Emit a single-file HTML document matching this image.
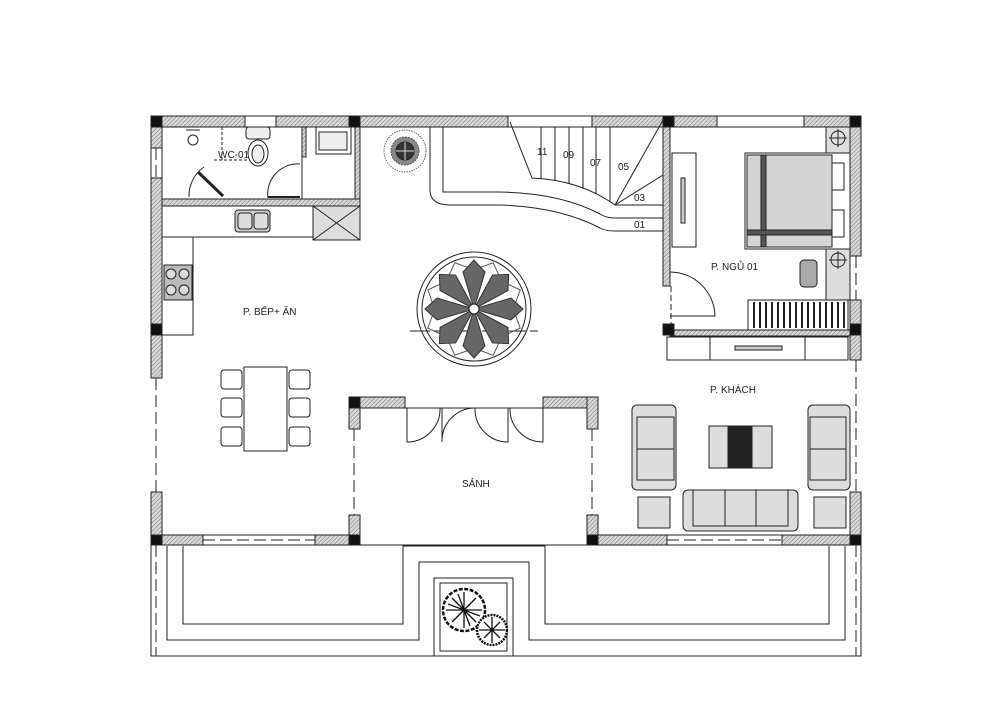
<!DOCTYPE html>
<html><head><meta charset="utf-8"><style>
html,body{margin:0;padding:0;background:#fff;}
svg{display:block;}
text{font-family:"Liberation Sans",sans-serif;font-size:10px;fill:#222;stroke:none;}
</style></head><body>
<svg width="999" height="710" viewBox="0 0 999 710" xmlns="http://www.w3.org/2000/svg">
<defs>
<pattern id="h" width="3" height="3" patternUnits="userSpaceOnUse" patternTransform="rotate(45)">
<rect width="3" height="3" fill="#d8d8d8"/><line x1="0" y1="0" x2="0" y2="3" stroke="#777" stroke-width="1"/>
</pattern>
</defs>
<g stroke="#222" stroke-width="1">
<g fill="url(#h)">
<rect x="151" y="116" width="94" height="11"/>
<rect x="276" y="116" width="232" height="11"/>
<rect x="592" y="116" width="125" height="11"/>
<rect x="804" y="116" width="57" height="11"/>
<rect x="151" y="116" width="11" height="32"/>
<rect x="151" y="178" width="11" height="200"/>
<rect x="151" y="492" width="11" height="53"/>
<rect x="850" y="116" width="11" height="140"/>
<rect x="850" y="300" width="11" height="60"/>
<rect x="850" y="492" width="11" height="53"/>
<rect x="162" y="535" width="41" height="10"/>
<rect x="315" y="535" width="45" height="10"/>
<rect x="598" y="535" width="69" height="10"/>
<rect x="782" y="535" width="79" height="10"/>
<rect x="349" y="397" width="56" height="11"/>
<rect x="543" y="397" width="55" height="11"/>
<rect x="349" y="397" width="11" height="32"/>
<rect x="349" y="515" width="11" height="30"/>
<rect x="587" y="397" width="11" height="32"/>
<rect x="587" y="515" width="11" height="30"/>
<rect x="162" y="199" width="198" height="7"/>
<rect x="355" y="127" width="5" height="72"/>
<rect x="302" y="127" width="4" height="30"/>
<rect x="663" y="116" width="7" height="170"/>
<rect x="670" y="330" width="180" height="6"/>
</g>
<g fill="none" stroke-dasharray="12 5">
<line x1="245" y1="121" x2="276" y2="121"/><line x1="508" y1="121" x2="592" y2="121"/><line x1="717" y1="121" x2="804" y2="121"/>
<line x1="156" y1="148" x2="156" y2="178"/><line x1="156" y1="378" x2="156" y2="492"/>
<line x1="856" y1="256" x2="856" y2="300"/><line x1="856" y1="360" x2="856" y2="492"/>
<line x1="203" y1="540" x2="315" y2="540"/><line x1="667" y1="540" x2="782" y2="540"/>
<line x1="354" y1="429" x2="354" y2="515"/><line x1="592" y1="429" x2="592" y2="515"/>
<line x1="156" y1="545" x2="156" y2="656"/><line x1="856" y1="545" x2="856" y2="656"/>
</g>
<g fill="#fff">
<rect x="245" y="116" width="31" height="11"/><rect x="508" y="116" width="84" height="11"/><rect x="717" y="116" width="87" height="11"/>
<rect x="151" y="148" width="11" height="30" fill="none"/>
<rect x="203" y="535" width="112" height="10" fill="none"/><rect x="667" y="535" width="115" height="10" fill="none"/>
</g>
<g fill="#111">
<rect x="151" y="116" width="11" height="11"/><rect x="349" y="116" width="11" height="11"/><rect x="663" y="116" width="11" height="11"/><rect x="850" y="116" width="11" height="11"/>
<rect x="151" y="324" width="11" height="11"/><rect x="850" y="324" width="11" height="11"/><rect x="663" y="324" width="11" height="11"/>
<rect x="151" y="535" width="11" height="10"/><rect x="349" y="535" width="11" height="10"/><rect x="587" y="535" width="11" height="10"/><rect x="850" y="535" width="11" height="10"/>
<rect x="349" y="397" width="11" height="11"/>
</g>
<g fill="none">
<rect x="151" y="545" width="710" height="111"/>
<path d="M167 546 V640 H419 V562 H529 V640 H845 V546"/>
<path d="M183 546 V624 H403 V546 H545 V624 H829 V546"/>
<rect x="434" y="578" width="79" height="78" fill="#fff"/>
<rect x="440" y="583" width="67" height="68"/>
</g>
<circle cx="464" cy="610" r="21" fill="#fff" stroke="#111" stroke-width="2.5" stroke-dasharray="4 1.5"/>
<circle cx="492" cy="630" r="15" fill="#fff" stroke="#111" stroke-width="2.5" stroke-dasharray="2 1"/>
<path d="M464 592 L464 628 M446 610 L482 610 M452 598 L476 622 M476 598 L452 622 M458 594 L470 626 M448 604 L480 616 M484 622 L500 638 M500 622 L484 638 M492 617 V643 M479 630 H505" stroke="#111" stroke-width="1.3"/>
<path d="M162 237 H313 M193 237 V335 H162" fill="none"/>
<rect x="313" y="206" width="47" height="34" fill="#ddd"/>
<path d="M313 206 L360 240 M360 206 L313 240"/>
<rect x="235" y="210" width="35" height="22" rx="3" fill="#ccc"/>
<rect x="238" y="213" width="14" height="16" rx="3" fill="#ddd"/><rect x="254" y="213" width="14" height="16" rx="3" fill="#ddd"/>
<rect x="164" y="265" width="28" height="35" fill="#bbb"/>
<circle cx="171" cy="274" r="5" fill="#ddd"/><circle cx="184" cy="274" r="5" fill="#ddd"/><circle cx="171" cy="290" r="5" fill="#ddd"/><circle cx="184" cy="290" r="5" fill="#ddd"/>
<rect x="316" y="127" width="35" height="27" fill="#fff"/><rect x="319" y="132" width="28" height="18" fill="#eee"/>
<rect x="246" y="127" width="24" height="12" rx="3" fill="#eee"/>
<ellipse cx="258" cy="153" rx="10" ry="13" fill="#fff"/><ellipse cx="258" cy="154" rx="6" ry="9" fill="#eee"/>
<circle cx="193" cy="140" r="5" fill="none"/><path d="M186 130 H200" />
<path d="M189 197 A35 35 0 0 1 204 167" fill="none"/>
<path d="M198 172 L223 196" stroke-width="3"/>
<path d="M268 198 A30 30 0 0 1 300 164" fill="none"/>
<line x1="268" y1="197" x2="300" y2="197" stroke-width="2"/>
<path d="M222 127 V160 M214 160 H250" fill="none" stroke-dasharray="3 2"/>
<line x1="302" y1="157" x2="302" y2="199"/>
<circle cx="405" cy="151" r="21" fill="#fff" stroke="#666" stroke-dasharray="1.5 1"/>
<circle cx="405" cy="151" r="14" fill="#888" stroke="#555" stroke-dasharray="2 1"/>
<circle cx="405" cy="151" r="9" fill="#333"/>
<path d="M396 151 H414 M405 142 V160" stroke="#ddd"/>
<circle cx="474" cy="309" r="57" fill="#fff"/><circle cx="474" cy="309" r="52" fill="none"/>
<line x1="410" y1="331" x2="538" y2="331" stroke-dasharray="20 4"/>
<g fill="none" stroke="#555">
<path d="M474 309 L462 270 L474 259 L486 270 Z" transform="rotate(22.5 474 309)"/><path d="M474 309 L462 270 L474 259 L486 270 Z" transform="rotate(67.5 474 309)"/>
<path d="M474 309 L462 270 L474 259 L486 270 Z" transform="rotate(112.5 474 309)"/><path d="M474 309 L462 270 L474 259 L486 270 Z" transform="rotate(157.5 474 309)"/>
<path d="M474 309 L462 270 L474 259 L486 270 Z" transform="rotate(202.5 474 309)"/><path d="M474 309 L462 270 L474 259 L486 270 Z" transform="rotate(247.5 474 309)"/>
<path d="M474 309 L462 270 L474 259 L486 270 Z" transform="rotate(292.5 474 309)"/><path d="M474 309 L462 270 L474 259 L486 270 Z" transform="rotate(337.5 474 309)"/>
</g>
<g fill="#666" stroke="#333">
<path d="M474 309 L463 272 L474 260 L485 272 Z"/><path d="M474 309 L463 272 L474 260 L485 272 Z" transform="rotate(45 474 309)"/>
<path d="M474 309 L463 272 L474 260 L485 272 Z" transform="rotate(90 474 309)"/><path d="M474 309 L463 272 L474 260 L485 272 Z" transform="rotate(135 474 309)"/>
<path d="M474 309 L463 272 L474 260 L485 272 Z" transform="rotate(180 474 309)"/><path d="M474 309 L463 272 L474 260 L485 272 Z" transform="rotate(225 474 309)"/>
<path d="M474 309 L463 272 L474 260 L485 272 Z" transform="rotate(270 474 309)"/><path d="M474 309 L463 272 L474 260 L485 272 Z" transform="rotate(315 474 309)"/>
</g>
<circle cx="474" cy="309" r="5" fill="#fff"/>
<rect x="244" y="367" width="43" height="84" fill="#fff"/>
<g fill="#fff"><rect x="221" y="370" width="21" height="19" rx="3"/><rect x="221" y="398" width="21" height="19" rx="3"/><rect x="221" y="427" width="21" height="19" rx="3"/>
<rect x="289" y="370" width="21" height="19" rx="3"/><rect x="289" y="398" width="21" height="19" rx="3"/><rect x="289" y="427" width="21" height="19" rx="3"/></g>
<g fill="none">
<path d="M430 127 V190 Q430 205 450 205 H500 Q560 207 600 228 Q605 231 615 231 H663"/>
<path d="M443 127 V192 H500 Q560 193 600 214 Q606 218 615 218 H663"/>
<path d="M510 122 L532 178 Q580 180 615 205"/>
<path d="M615 205 L663 120 M615 205 L663 175 M615 205 H663"/>
<path d="M541 127 V179 M555 127 V181 M569 127 V184 M583 127 V189 M596 127 V194 M610 127 V201"/>
</g>
<text x="537" y="155" font-size="7">11</text><text x="563" y="158" font-size="7">09</text><text x="590" y="166" font-size="7">07</text><text x="618" y="170" font-size="7">05</text><text x="634" y="201" font-size="7">03</text><text x="634" y="228" font-size="7">01</text>
<rect x="672" y="153" width="24" height="94" fill="#fff"/><rect x="681" y="178" width="4" height="45" fill="#ccc"/>
<rect x="826" y="127" width="24" height="26" fill="#ddd"/><circle cx="838" cy="138" r="7" fill="none"/><path d="M838 129 V147 M829 138 H847"/>
<rect x="826" y="249" width="24" height="51" fill="#ddd"/><circle cx="838" cy="260" r="7" fill="none"/><path d="M838 251 V269 M829 260 H847"/>
<rect x="745" y="153" width="105" height="96" fill="#fff"/>
<rect x="747" y="155" width="85" height="92" fill="#d4d4d4"/>
<rect x="761" y="155" width="5" height="92" fill="#555"/><rect x="747" y="230" width="85" height="5" fill="#555"/>
<rect x="832" y="163" width="12" height="27" fill="#fff"/><rect x="832" y="210" width="12" height="27" fill="#fff"/>
<rect x="800" y="260" width="17" height="27" rx="4" fill="#aaa"/>
<rect x="748" y="300" width="100" height="30" fill="#fff"/>
<path d="M754 302 V328 M760 302 V328 M766 302 V328 M772 302 V328 M778 302 V328 M784 302 V328 M790 302 V328 M796 302 V328 M802 302 V328 M808 302 V328 M814 302 V328 M820 302 V328 M826 302 V328 M832 302 V328 M838 302 V328 M844 302 V328" stroke-width="2"/>
<path d="M670 316 H715 A45 45 0 0 0 670 272" fill="none"/>
<line x1="671" y1="286" x2="671" y2="324" stroke-dasharray="6 3"/>
<rect x="667" y="337" width="181" height="23" fill="#fff"/><path d="M710 337 V360 M805 337 V360"/><rect x="735" y="346" width="47" height="4" fill="#ccc"/>
<path d="M405 408 H543" fill="none"/>
<g fill="none">
<path d="M407 408 V442 A33 33 0 0 0 440 408"/><path d="M442 408 V442 A33 33 0 0 1 475 408"/>
<path d="M475 408 A33 33 0 0 0 508 442 V408"/><path d="M510 408 A33 33 0 0 0 543 442 V408"/>
</g>
<g fill="#ddd">
<rect x="632" y="405" width="44" height="85" rx="5"/><rect x="637" y="417" width="37" height="32"/><rect x="637" y="449" width="37" height="31"/>
<rect x="808" y="405" width="42" height="85" rx="5"/><rect x="810" y="417" width="36" height="32"/><rect x="810" y="449" width="36" height="31"/>
<rect x="709" y="426" width="63" height="42"/>
<rect x="683" y="490" width="115" height="41" rx="5"/><rect x="693" y="490" width="32" height="36"/><rect x="725" y="490" width="31" height="36"/><rect x="756" y="490" width="32" height="36"/>
<rect x="638" y="497" width="32" height="31"/><rect x="814" y="497" width="32" height="31"/>
</g>
<rect x="728" y="426" width="24" height="42" fill="#222"/>
</g>
<text x="218" y="158">WC-01</text>
<text x="243" y="315">P. BẾP+ ĂN</text>
<text x="711" y="270">P. NGỦ 01</text>
<text x="710" y="393">P. KHÁCH</text>
<text x="462" y="487">SẢNH</text>
</svg>
</body></html>
